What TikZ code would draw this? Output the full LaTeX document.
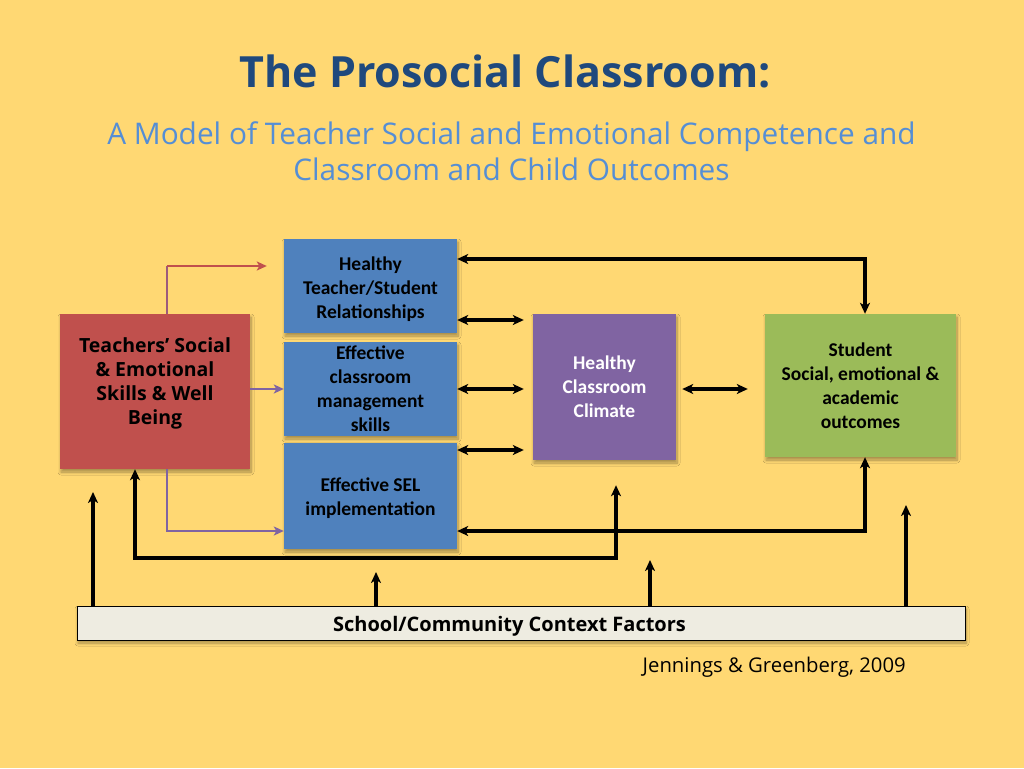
\documentclass[tikz,border=0pt]{standalone}
\usepackage{fontspec}
\setmainfont{Open Sans}
\newfontfamily\carl{Carlito}
\usetikzlibrary{arrows.meta,shadows.blur,calc}
\definecolor{bg}{HTML}{FFD873}
\definecolor{titleblue}{HTML}{1F497D}
\definecolor{subblue}{HTML}{558ED5}
\definecolor{redbox}{HTML}{C0504D}
\definecolor{bluebox}{HTML}{4F81BD}
\definecolor{purplebox}{HTML}{8064A2}
\definecolor{greenbox}{HTML}{9BBB59}
\definecolor{barfill}{HTML}{EEECE1}
\begin{document}
\begin{tikzpicture}[x=1pt,y=-1pt,
  box/.style={rectangle, inner sep=0pt, align=center,
    blur shadow={shadow xshift=1pt, shadow yshift=-3pt, shadow blur steps=8, shadow blur radius=3pt, shadow opacity=35}},
  boxtext/.style={align=center, inner sep=0pt, font=\carl\bfseries\fontsize{19.5}{24}\selectfont},
  redtext/.style={align=center, inner sep=0pt, font=\bfseries\fontsize{19.5}{24}\selectfont},
  arr/.style={line width=3.4pt, -{Stealth[length=11pt,width=10pt,inset=3pt]}},
  dbl/.style={line width=3.4pt, {Stealth[length=11pt,width=10pt,inset=3pt]}-{Stealth[length=11pt,width=10pt,inset=3pt]}},
  parr/.style={line width=2.8pt, draw=purplebox, -{Stealth[length=10pt,width=9pt,inset=2.5pt]}},
  rarr/.style={line width=2.8pt, draw=redbox, -{Stealth[length=10pt,width=9pt,inset=2.5pt]}}
]
\fill[bg] (0,0) rectangle (1024,768);
\useasboundingbox (0,0) rectangle (1024,768);

% titles
\node[anchor=base, inner sep=0pt, text=titleblue, font=\bfseries\fontsize{43}{48}\selectfont] (title) at (505,87) {The Prosocial Classroom:};
\node[anchor=base, inner sep=0pt, text=subblue, font=\fontsize{29.8}{36}\selectfont] (sub1) at (511.5,144) {A Model of Teacher Social and Emotional Competence and};
\node[anchor=base, inner sep=0pt, text=subblue, font=\fontsize{29.8}{36}\selectfont] (sub2) at (511.5,180) {Classroom and Child Outcomes};

% boxes
\node[box, fill=redbox, minimum width=190pt, minimum height=155pt] (red) at (155,391.5) {};
\node[redtext] (redlbl) at (155,383) {Teachers’ Social\\ \& Emotional\\ Skills \& Well\\ Being};
\node[box, fill=bluebox, minimum width=173pt, minimum height=94pt] (b1) at (370.5,286) {};
\node[boxtext] (b1t) at (370.5,289) {Healthy\\ Teacher/Student\\ Relationships};
\node[box, fill=bluebox, minimum width=173pt, minimum height=94pt] (b2) at (370.5,389) {};
\node[boxtext] (b2t) at (370.5,389) {Effective\\ classroom\\ management\\ skills};
\node[box, fill=bluebox, minimum width=173pt, minimum height=106pt] (b3) at (370.5,496) {};
\node[boxtext] (b3t) at (370.5,498) {Effective SEL\\ implementation};
\node[box, fill=purplebox, minimum width=143pt, minimum height=146pt] (pur) at (604.5,387) {};
\node[boxtext, text=white] (purt) at (604.5,387) {Healthy\\ Classroom\\ Climate};
\node[box, fill=greenbox, minimum width=191pt, minimum height=143pt] (grn) at (860.5,385.5) {};
\node[boxtext] (grnt) at (860.5,385.5) {Student\\ Social, emotional \&\\ academic\\ outcomes};
\node[box, fill=barfill, draw=black, line width=0.8pt, minimum width=888pt, minimum height=34pt] (bar) at (521,623) {};
\node[anchor=base, inner sep=0pt, font=\bfseries\fontsize{20}{24}\selectfont] (bart) at (509.5,631) {School/Community Context Factors};
\node[anchor=base east, inner sep=0pt, font=\fontsize{20.3}{24}\selectfont] (cite) at (906,672) {Jennings \& Greenberg, 2009};

% level coordinates
\coordinate (L1) at (0,320);
\coordinate (L2) at (0,389);
\coordinate (L3) at (0,450);
\coordinate (t1) at (865,259);
\coordinate (t2) at (865,531);
\coordinate (rk) at (167,266);
\coordinate (rb) at (167,531);
\coordinate (lp2) at (616,558);
\coordinate (u1) at (93,492);
\coordinate (u2) at (376,572);
\coordinate (u3) at (650,560);
\coordinate (u4) at (906,505);

% blue <-> purple
\draw[dbl, shorten >=9pt] (b1.east |- L1) -- (pur.west |- L1);
\draw[dbl, shorten >=9pt] (b2.east |- L2) -- (pur.west |- L2);
\draw[dbl, shorten >=9pt] (b3.east |- L3) -- (pur.west |- L3);
% purple <-> green
\draw[dbl, shorten <=6pt, shorten >=17pt] (pur.east |- L2) -- (grn.west |- L2);
% green loops
\draw[dbl] (b1.east |- t1) -| (grn.north -| t1);
\draw[dbl] (b3.east |- t2) -| (grn.south -| t2);
% black loop from purple bottom to red bottom
\draw[dbl, shorten <=25pt] (pur.south -| lp2) -- (lp2) -| ([xshift=-20pt]red.south);
% red / purple arrows
\draw[line width=2.8pt, draw=redbox!45!purplebox] (red.north -| rk) -- (rk);
\draw[rarr, shorten >=17pt] (rk) -- (b1.west |- rk);
\draw[parr] (red.east |- b2.west) -- (b2.west);
\draw[parr] (red.south -| rb) |- (b3.west |- rb);
% context arrows
\draw[arr] (bar.north -| u1) -- (u1);
\draw[arr] (bar.north -| u2) -- (u2);
\draw[arr] (bar.north -| u3) -- (u3);
\draw[arr] (bar.north -| u4) -- (u4);
\end{tikzpicture}
\end{document}
